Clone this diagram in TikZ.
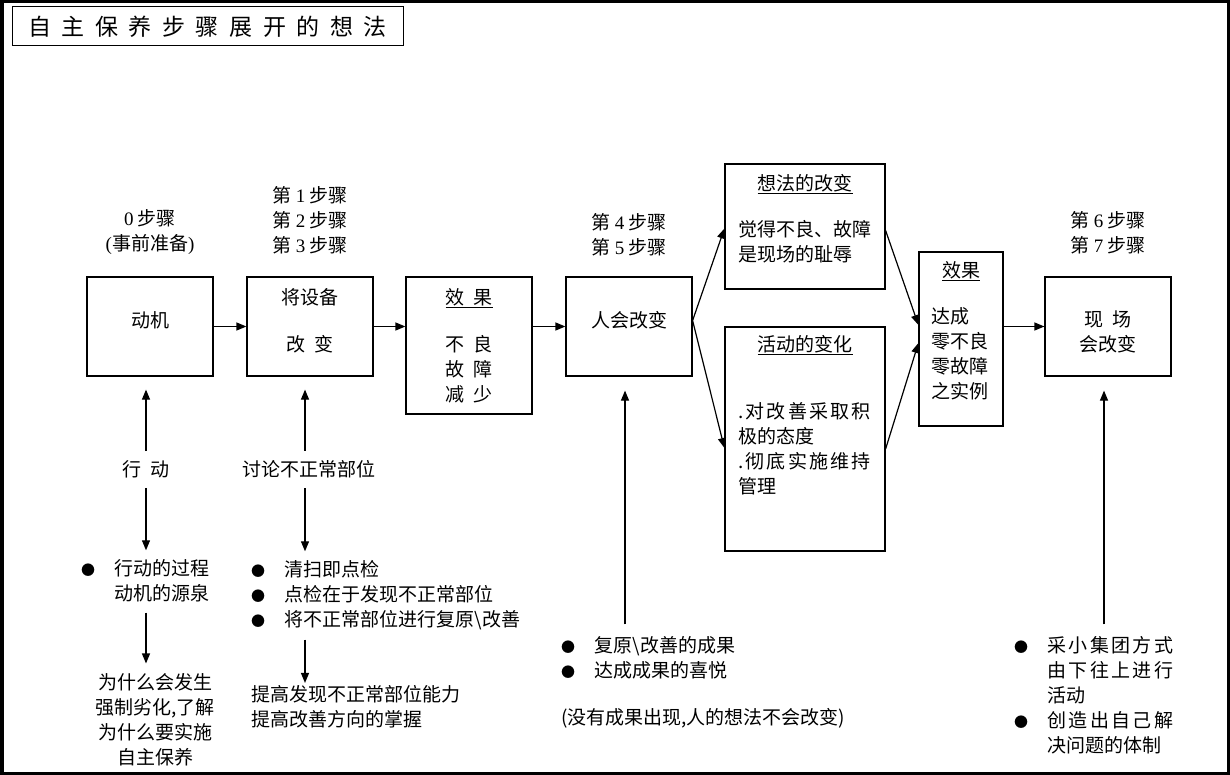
\documentclass[tikz,border=0pt]{standalone}
\usepackage{fontspec}
\setmainfont{Noto Sans CJK SC}
\newfontfamily\numfont{Liberation Serif}
\usetikzlibrary{arrows.meta,positioning}
\newcommand\gap{\hspace{9pt}}
\newcommand\titlefont{\fontsize{23}{28}\selectfont\spaceskip 10.6pt\relax}
\newcommand\bul{\makebox[19pt]{\fontsize{14}{25}\selectfont ●}}
\newcommand\wide[1]{{\addfontfeature{LetterSpace=12}#1}}

\begin{document}
\begin{tikzpicture}[x=1pt, y=-1pt,
  box/.style={draw, line width=1.2pt, inner sep=0pt, align=center,
              font=\fontsize{19}{25}\selectfont},
  txt/.style={inner sep=0pt, font=\fontsize{19}{25}\selectfont},
  arr/.style={-{Triangle[length=10pt,width=8pt]}, line width=1.2pt}
]
\useasboundingbox (0,0) rectangle (1230,775);
\draw[line width=3.5pt] (1.75,1.75) rectangle (1228.25,773.25);

% title
\node[draw, line width=1pt, minimum width=391pt, minimum height=39pt,
      font=\titlefont] (title) at (207.5,26.5)
      {自 主 保 养 步 骤 展 开 的 想 法};

% main row
\node[box, minimum width=126pt, minimum height=99pt] (dongji) at (150,326.5) {动机\\[-11pt]\mbox{}};
\node[box, minimum width=126pt, minimum height=99pt] (shebei) at (310,326.5) {将设备\\[22pt]改\gap 变\\[-11pt]\mbox{}};
\node[box, minimum width=126pt, minimum height=137pt] (xiaoguo) at (469,345.5)
      {\underline{效\gap 果}\\[22pt]不\gap 良\\故\gap 障\\减\gap 少};
\node[box, minimum width=126pt, minimum height=99pt] (renhui) at (629,326.5) {人会改变\\[-11pt]\mbox{}};
\node[box, minimum width=160pt, minimum height=125pt, text width=134pt, align=left] (xiangfa) at (805,226.5)
      {\hfill\underline{想法的改变}\hfill\null\\[21pt]觉得不良、故障\\是现场的耻辱\\[-7pt]\mbox{}};
\node[box, minimum width=160pt, minimum height=224pt, text width=134pt, align=left] (huodong) at (805,439)
      {\hfill\underline{活动的变化}\hfill\null\\[42pt]\wide{.对改善采取积}\\极的态度\\\wide{.彻底实施维持}\\管理\\[17pt]\strut};
\node[box, minimum width=84pt, minimum height=174pt, text width=60pt, align=left] (xg2) at (961,339)
      {\hfill\underline{效果}\hfill\null\\[21pt]达成\\零不良\\零故障\\之实例\\[-7pt]\mbox{}};
\node[box, minimum width=126pt, minimum height=99pt] (xianchang) at (1108,326.5) {\mbox{}\\[1.7pt]现\gap 场\\会改变};

% step labels
\node[txt, align=center, above=22pt of dongji] (step0) {{\numfont 0} 步骤\\{\numfont(}事前准备{\numfont)}};
\node[txt, align=center, above=22pt of shebei] (step123) {第 {\numfont 1} 步骤\\第 {\numfont 2} 步骤\\第 {\numfont 3} 步骤};
\node[txt, align=center, above=20pt of renhui] (step45) {第 {\numfont 4} 步骤\\第 {\numfont 5} 步骤};
\node[txt, align=center, above=22pt of xianchang] (step67) {第 {\numfont 6} 步骤\\第 {\numfont 7} 步骤};

\draw[arr] (dongji) -- (shebei);
\draw[arr] (shebei.east) -- (shebei.east -| xiaoguo.west);
\draw[arr] (xiaoguo.east |- renhui) -- (renhui.west);
\draw[arr] ([yshift=6pt]renhui.east) -- ([yshift=-2pt]xiangfa.west);
\draw[arr] ([yshift=6pt]renhui.east) -- ([yshift=-9pt]huodong.west);
\draw[arr] ([yshift=-4pt]xiangfa.east) -- ([yshift=14pt]xg2.west);
\draw[arr] ([yshift=-10pt]huodong.east) -- ([yshift=-4pt]xg2.west);
\draw[arr] (xg2.east |- xianchang) -- (xianchang.west);

% lower notes
\node[txt] (xd) at (146,469) {行\gap 动};
\node[txt] (tl) at (309,469) {讨论不正常部位};
\node[txt, anchor=base west] (list0) at (78.5,575)
      {\begin{tabular}[t]{@{}l@{\hspace{17pt}}c@{}}\bul & 行动的过程\\ & 动机的源泉\end{tabular}};
\node[txt, align=center] (why) at (155,720) {为什么会发生\\强制劣化,了解\\为什么要实施\\自主保养};
\node[txt, anchor=base west] (list1) at (248.5,576)
      {\begin{tabular}[t]{@{}l@{\hspace{17pt}}l@{}}\bul & 清扫即点检\\\bul & 点检在于发现不正常部位\\\bul & 将不正常部位进行复原\textbackslash 改善\end{tabular}};
\node[txt, anchor=west, align=left] (up2) at (251,706.5) {提高发现不正常部位能力\\提高改善方向的掌握};
\node[txt, anchor=base west] (list2) at (558.5,652)
      {\begin{tabular}[t]{@{}l@{\hspace{17pt}}l@{}}\bul & 复原\textbackslash 改善的成果\\\bul & 达成成果的喜悦\end{tabular}};
\node[txt, anchor=base west] (note) at (561,724) {(没有成果出现,人的想法不会改变)};
\node[txt, anchor=base west] (list3) at (1011.5,652)
      {\begin{tabular}[t]{@{}l@{\hspace{17pt}}l@{}}\bul & \wide{采小集团方式}\\ & \wide{由下往上进行}\\ & 活动\\\bul & \wide{创造出自己解}\\ & 决问题的体制\end{tabular}};

\draw[arr, shorten <=9pt, shorten >=13pt] (xd) -- (xd |- dongji.south);
\draw[arr, shorten <=10pt, shorten >=7pt] (xd) -- (xd |- list0.north);
\draw[arr, shorten <=5pt, shorten >=10pt] (xd |- list0.south) -- (xd |- why.north);
\draw[arr, shorten <=9pt, shorten >=13pt] ([xshift=-4pt]tl.north) -- ([xshift=-4pt]tl.north |- shebei.south);
\draw[arr, shorten <=10pt, shorten >=7pt] ([xshift=-4pt]tl.south) -- ([xshift=-4pt]tl.south |- list1.north);
\draw[arr, shorten <=6pt, shorten >=2pt] ([xshift=-4pt]tl.south |- list1.south) -- ([xshift=-4pt]tl.south |- up2.north);
\draw[arr, shorten <=10pt, shorten >=14pt] ([xshift=-4pt]renhui.south |- list2.north) -- ([xshift=-4pt]renhui.south);
\draw[arr, shorten <=10pt, shorten >=14pt] ([xshift=-4pt]xianchang.south |- list3.north) -- ([xshift=-4pt]xianchang.south);
\end{tikzpicture}
\end{document}
